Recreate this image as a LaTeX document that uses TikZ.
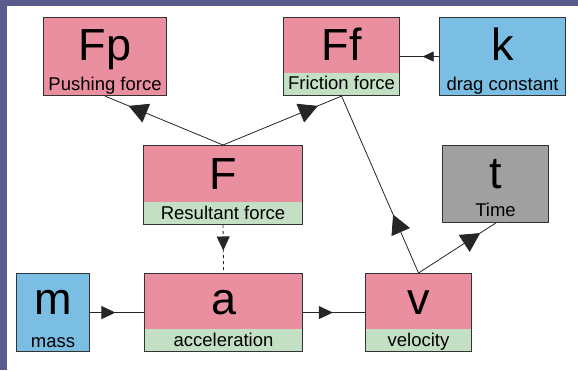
\documentclass[tikz,border=0pt]{standalone}
\usepackage{fontspec}
\setmainfont{Liberation Sans}
\usetikzlibrary{arrows.meta,decorations.markings}
\definecolor{bgpurple}{HTML}{5A5A8C}
\definecolor{boxpink}{HTML}{EA8FA0}
\definecolor{boxgreen}{HTML}{C4E0C4}
\definecolor{boxblue}{HTML}{7BBEE3}
\definecolor{boxgray}{HTML}{A0A0A0}
\definecolor{edgegray}{HTML}{333333}
\tikzset{
  bigtip/.tip={Triangle[length=19pt,width=20pt]},
  midtip/.tip={Triangle[length=14pt,width=13pt]},
  smalltip/.tip={Triangle[length=11pt,width=10pt]},
  box/.style={draw=edgegray, line width=1.1pt, inner sep=0pt, minimum height=78pt, anchor=north west},
  band/.style={path picture={\fill[boxgreen] (path picture bounding box.south west) rectangle ([yshift=22.5pt]path picture bounding box.south east);}},
  bigtxt/.style={font=\fontsize{45}{45}\selectfont, anchor=base, inner sep=0pt},
  smalltxt/.style={font=\fontsize{18.5}{18.5}\selectfont, anchor=base, inner sep=0pt},
  conn/.style={draw=black!85, line width=0.8pt},
  arrat/.style 2 args={postaction={decorate}, decoration={markings, mark=at position #1 with {\arrow{#2}}}},
}
\begin{document}
\begin{tikzpicture}[x=1pt,y=-1pt]
\useasboundingbox (0,0) rectangle (578,370);
\fill[bgpurple] (0,0) rectangle (578,370);
\fill[white] (7,6) rectangle (578,370);

% boxes
\node[box, fill=boxpink, minimum width=123pt] (Fp) at (43,17) {};
\node[box, fill=boxpink, band, minimum width=116pt] (Ff) at (283,17) {};
\node[box, fill=boxblue, minimum width=126pt] (k) at (439,17) {};
\node[box, fill=boxpink, band, minimum width=159pt, minimum height=79pt] (F) at (143,145) {};
\node[box, fill=boxgray, minimum width=106pt, minimum height=77pt] (t) at (442,145) {};
\node[box, fill=boxblue, minimum width=73pt] (m) at (16,273) {};
\node[box, fill=boxpink, band, minimum width=158pt] (a) at (144,273) {};
\node[box, fill=boxpink, band, minimum width=106pt] (v) at (365,273) {};

% texts
\node[bigtxt] (FpL) at ([yshift=-43pt]Fp.north) {Fp};
\node[smalltxt] (FpS) at ([yshift=6pt]Fp.south) {Pushing force};
\node[bigtxt] (FfL) at ([yshift=-43pt]Ff.north) {Ff};
\node[smalltxt] (FfS) at ([yshift=7pt]Ff.south) {Friction force};
\node[bigtxt] (kL) at ([yshift=-43pt]k.north) {k};
\node[smalltxt] (kS) at ([yshift=6pt]k.south) {drag constant};
\node[bigtxt] (FL) at ([yshift=-44pt]F.north) {F};
\node[smalltxt] (FS) at ([yshift=6pt]F.south) {Resultant force};
\node[bigtxt] (tL) at ([yshift=-43pt]t.north) {t};
\node[smalltxt] (tS) at ([yshift=7pt]t.south) {Time};
\node[bigtxt] (mL) at ([yshift=-41pt]m.north) {m};
\node[smalltxt] (mS) at ([yshift=5pt]m.south) {mass};
\node[bigtxt] (aL) at ([yshift=-41pt]a.north) {a};
\node[smalltxt] (aS) at ([yshift=6pt]a.south) {acceleration};
\node[bigtxt] (vL) at ([yshift=-41pt]v.north) {v};
\node[smalltxt] (vS) at ([yshift=6pt]v.south) {velocity};

% connectors
\draw[conn, arrat={0.8}{bigtip}] (F.north) -- (Fp.south);
\draw[conn, arrat={0.8}{bigtip}] (F.north) -- (Ff.south);
\draw[conn, arrat={0.33}{bigtip}] (v.north) -- (Ff.south);
\draw[conn, arrat={0.8}{bigtip}] (v.north) -- (t.south);
\draw[conn, arrat={0.42}{smalltip}] (k.west) -- (Ff.east);
\draw[conn, arrat={0.47}{midtip}] (m.east) -- (a.west);
\draw[conn, arrat={0.48}{midtip}] (a.east) -- (v.west);
\draw[conn, dash pattern=on 3pt off 3pt, arrat={0.53}{midtip}] (F.south) -- (a.north);
\end{tikzpicture}
\end{document}
